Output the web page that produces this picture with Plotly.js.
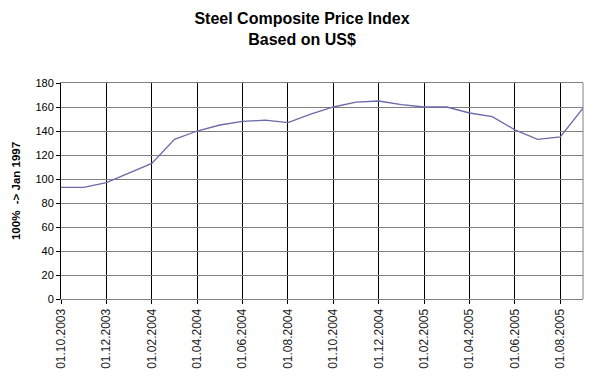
<!DOCTYPE html>
<html>
<head>
<meta charset="utf-8">
<script src="https://cdn.plot.ly/plotly-3.0.1.min.js"></script>
<style>html,body{margin:0;padding:0;background:#fff;}#chart{width:598px;height:380px;}</style>
</head>
<body>
<div id="chart"></div>
<script>
var months = ["01.10.2003","01.11.2003","01.12.2003","01.01.2004","01.02.2004","01.03.2004","01.04.2004","01.05.2004","01.06.2004","01.07.2004","01.08.2004","01.09.2004","01.10.2004","01.11.2004","01.12.2004","01.01.2005","01.02.2005","01.03.2005","01.04.2005","01.05.2005","01.06.2005","01.07.2005","01.08.2005","01.09.2005"];
var priceIndex = [93, 93, 97, 105, 113, 133, 140, 145, 148, 149, 147, 154, 160, 164, 165, 162, 160, 160, 155, 152, 141, 133, 135, 159];
var tickLabels = ["01.10.2003","01.12.2003","01.02.2004","01.04.2004","01.06.2004","01.08.2004","01.10.2004","01.12.2004","01.02.2005","01.04.2005","01.06.2005","01.08.2005"];
var yTicks = [0,20,40,60,80,100,120,140,160,180];

var trace = {
  x: months, y: priceIndex, type: 'scatter', mode: 'lines',
  line: {color: '#6a6aa8', width: 1.3}, hoverinfo: 'none'
};
var font = "'Liberation Sans', Arial, sans-serif";
var layout = {
  width: 598, height: 380,
  margin: {l: 61, r: 15, t: 83, b: 81},
  paper_bgcolor: '#fff', plot_bgcolor: '#fff',
  showlegend: false,
  font: {family: font, size: 11, color: '#000'},
  title: {text: '<b>Steel Composite Price Index<br>Based on US$</b>', font: {family: font, size: 16, color: '#000'}, x: 0.505, xanchor: 'center', y: 0.936, yanchor: 'top'},
  xaxis: {
    type: 'category', range: [0, 23], tickmode: 'array', tickvals: tickLabels, ticktext: tickLabels,
    tickangle: -90, showgrid: true, gridcolor: '#000', gridwidth: 1,
    ticks: 'outside', ticklen: 4, tickcolor: '#000',
    showline: true, linecolor: '#808080', linewidth: 1, mirror: true,
    zeroline: false, tickfont: {family: font, size: 12, color: '#222'}, fixedrange: true
  },
  yaxis: {
    range: [0, 180], tickmode: 'array', tickvals: yTicks,
    showgrid: true, gridcolor: '#808080', gridwidth: 1,
    ticks: 'outside', ticklen: 4, tickcolor: '#000',
    showline: true, linecolor: '#000', linewidth: 1, zeroline: false,
    tickfont: {family: font, size: 11, color: '#000'},
    title: {text: '<b>100%  -> Jan 1997</b>', font: {family: font, size: 11.5, color: '#000'}, standoff: 12},
    fixedrange: true
  },
  shapes: [{type: 'line', xref: 'paper', yref: 'paper', x0: 1, x1: 1, y0: 0, y1: 1, line: {color: '#808080', width: 1}}]
};
Plotly.newPlot('chart', [trace], layout, {displayModeBar: false, staticPlot: true});
</script>
</body>
</html>
